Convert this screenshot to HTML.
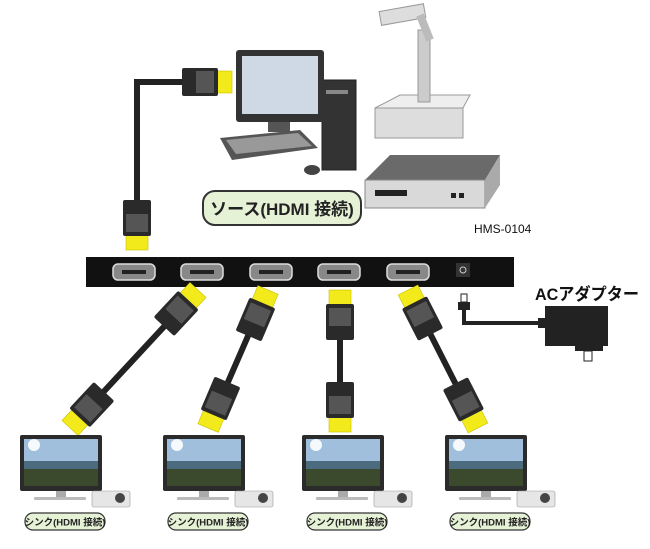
<!DOCTYPE html>
<html><head><meta charset="utf-8"><style>
body{margin:0;background:#fff;}
svg{display:block;font-family:"Liberation Sans","Noto Sans CJK JP",sans-serif;}
</style></head><body>
<svg width="650" height="549" viewBox="0 0 650 549" xmlns="http://www.w3.org/2000/svg">
<defs>
<g id="plug">
<rect x="-11" y="-15" width="22" height="15" fill="#f2ea1a" stroke="#c9c000" stroke-width="0.6"/>
<rect x="-14" y="-50" width="28" height="36" fill="#2a2a2a" rx="2"/>
<rect x="-11" y="-36" width="22" height="18" fill="#555"/>
</g>
<g id="sink">
<rect x="0" y="0" width="82" height="56" fill="#2b2b2b" rx="2"/>
<rect x="4" y="4" width="74" height="47" fill="#7fa0c0"/>
<rect x="4" y="4" width="74" height="22" fill="#9fbfdc"/>
<circle cx="14" cy="10" r="6" fill="#fff" opacity="0.9"/>
<rect x="4" y="26" width="74" height="8" fill="#4d6b7e"/>
<rect x="4" y="34" width="74" height="17" fill="#3b4a2c"/>
<rect x="36" y="56" width="10" height="7" fill="#aaa"/>
<rect x="14" y="62" width="52" height="3" fill="#bbb" rx="1"/>
<rect x="72" y="56" width="38" height="16" fill="#e6e6e6" stroke="#999" stroke-width="0.6" rx="2"/>
<circle cx="100" cy="63" r="5" fill="#444"/>
<rect x="5" y="78" width="80" height="17" rx="8" fill="#e6f2d6" stroke="#333" stroke-width="1.2"/>
<text x="45" y="90.5" font-size="9.5" font-weight="bold" text-anchor="middle" fill="#222">シンク(HDMI 接続)</text>
</g>
</defs>

<!-- projector stand -->
<rect x="375" y="108" width="88" height="30" fill="#ddd" stroke="#999"/>
<polygon points="375,108 400,95 470,95 463,108" fill="#eee" stroke="#999"/>
<rect x="418" y="30" width="12" height="72" fill="#ccc" stroke="#999"/>
<rect x="380" y="8" width="45" height="14" fill="#ddd" stroke="#999" transform="rotate(-10 400 15)"/>
<line x1="420" y1="15" x2="430" y2="40" stroke="#bbb" stroke-width="8"/>

<!-- DVR box -->
<polygon points="365,180 390,155 500,155 485,180" fill="#6a6a6a"/>
<rect x="365" y="180" width="120" height="28" fill="#d9d9d9" stroke="#888"/>
<polygon points="485,180 500,155 500,185 485,208" fill="#aaa"/>
<rect x="375" y="190" width="32" height="6" fill="#222"/>
<rect x="451" y="193" width="5" height="5" fill="#222"/><rect x="459" y="193" width="5" height="5" fill="#222"/>

<!-- PC -->
<rect x="322" y="80" width="34" height="90" fill="#333" stroke="#222"/>
<rect x="326" y="90" width="22" height="4" fill="#888"/>
<rect x="236" y="50" width="88" height="72" fill="#333" rx="3"/>
<rect x="242" y="56" width="76" height="58" fill="#cfd9e6"/>
<rect x="268" y="122" width="22" height="10" fill="#555"/>
<polygon points="220,138 300,130 318,148 232,160" fill="#555"/>
<polygon points="226,140 298,133 312,146 236,154" fill="#999"/>
<ellipse cx="312" cy="170" rx="8" ry="5" fill="#444"/>

<!-- source label -->
<rect x="203" y="191" width="158" height="34" rx="12" fill="#e6f2d6" stroke="#333" stroke-width="2"/>
<text x="282" y="215" font-size="17" font-weight="bold" text-anchor="middle" fill="#222">ソース(HDMI 接続)</text>
<text x="474" y="233" font-size="12" fill="#111">HMS-0104</text>

<!-- source cable -->
<polyline points="137,205 137,82 195,82" fill="none" stroke="#222" stroke-width="6"/>
<use href="#plug" transform="translate(137,250)"/>
<use href="#plug" transform="translate(232,82) rotate(-90)"/>

<!-- switch -->
<rect x="86" y="257" width="428" height="30" fill="#111"/>
<g fill="#888" stroke="#ddd" stroke-width="1.5">
<rect x="113" y="264" width="42" height="16" rx="5"/>
<rect x="181" y="264" width="42" height="16" rx="5"/>
<rect x="250" y="264" width="42" height="16" rx="5"/>
<rect x="318" y="264" width="42" height="16" rx="5"/>
<rect x="387" y="264" width="42" height="16" rx="5"/>
</g>
<g fill="#222"><rect x="122" y="270" width="24" height="4"/><rect x="190" y="270" width="24" height="4"/><rect x="259" y="270" width="24" height="4"/><rect x="327" y="270" width="24" height="4"/><rect x="396" y="270" width="24" height="4"/></g>
<rect x="456" y="263" width="14" height="14" fill="#333"/><circle cx="463" cy="270" r="3" fill="none" stroke="#ccc"/>

<!-- AC adapter -->
<rect x="461" y="294" width="6" height="8" fill="#fff" stroke="#222"/>
<rect x="458" y="302" width="12" height="8" fill="#222"/>
<polyline points="464,310 464,323 540,323" fill="none" stroke="#222" stroke-width="4"/>
<rect x="538" y="318" width="7" height="10" fill="#222"/>
<rect x="545" y="306" width="63" height="40" fill="#222"/>
<rect x="575" y="346" width="28" height="5" fill="#222"/>
<rect x="584" y="351" width="8" height="10" fill="#fff" stroke="#222"/>
<text x="535" y="300" font-size="17" font-weight="bold" fill="#111" textLength="104" lengthAdjust="spacingAndGlyphs">ACアダプター</text>

<!-- sink cables -->
<g stroke="#222" stroke-width="6">
<line x1="70" y1="428" x2="198" y2="290"/>
<line x1="208" y1="428" x2="268" y2="290"/>
<line x1="340" y1="428" x2="340" y2="290"/>
<line x1="478" y1="428" x2="408" y2="290"/>
</g>
<use href="#plug" transform="translate(70,428) rotate(43)"/>
<use href="#plug" transform="translate(198,290) rotate(223)"/>
<use href="#plug" transform="translate(208,428) rotate(23)"/>
<use href="#plug" transform="translate(268,290) rotate(203)"/>
<use href="#plug" transform="translate(340,432)"/>
<use href="#plug" transform="translate(340,290) rotate(180)"/>
<use href="#plug" transform="translate(478,428) rotate(-27)"/>
<use href="#plug" transform="translate(408,290) rotate(153)"/>

<use href="#sink" transform="translate(20,435)"/>
<use href="#sink" transform="translate(163,435)"/>
<use href="#sink" transform="translate(302,435)"/>
<use href="#sink" transform="translate(445,435)"/>
</svg>
</body></html>
